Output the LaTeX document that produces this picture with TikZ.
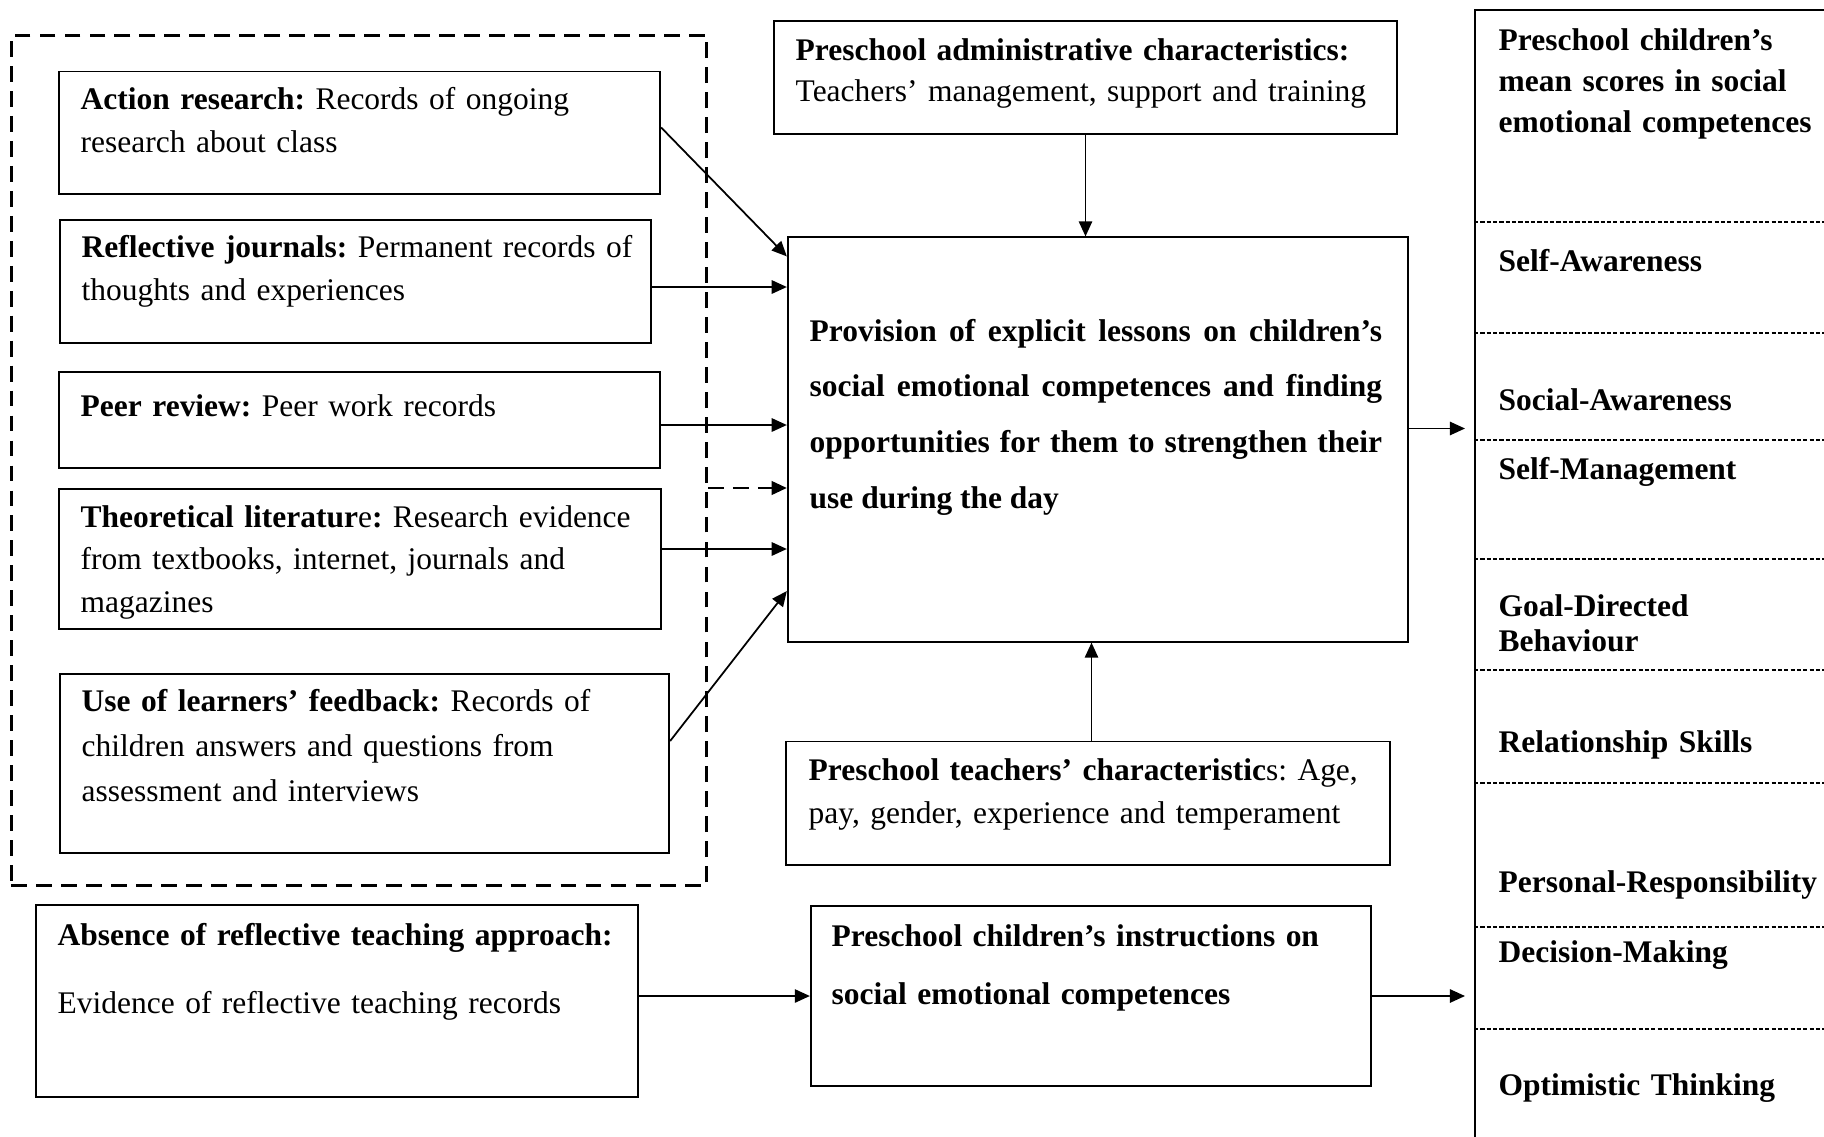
\documentclass[tikz,border=0pt]{standalone}
\usepackage{fontspec}
\setmainfont{Liberation Serif}
\usepackage{tikz}
\usetikzlibrary{arrows.meta}
\usetikzlibrary{positioning}
\frenchspacing

\begin{document}
\begin{tikzpicture}[x=0.01cm, y=-0.01cm,
    box/.style={draw, line width=0.55pt, inner sep=0pt},
    grp/.style={draw, line width=0.75pt, dash pattern=on 4.5pt off 2.6pt, inner sep=0pt},
    txt/.style={anchor=base west, inner sep=0pt, align=left, text width=6.3cm,
                font=\fontsize{8.95}{#1}\selectfont},
    txt/.default=12.5,
    arr/.style={-{Triangle[length=4.3pt,width=3.8pt]}, line width=0.5pt},
    dasharr/.style={arr, line width=0.75pt, dash pattern=on 4.5pt off 2.6pt},
    divider/.style={line width=0.4pt, dash pattern=on 1.2pt off 0.6pt}]
  \useasboundingbox (0,0) rectangle (1824,1136);

  % Dashed frame round the reflective practices
  \node[grp, minimum width=6.95cm, minimum height=8.50cm] (grp) at (359,460.5) {};

  % Reflective practices
  \node[box, minimum width=6.01cm, minimum height=1.22cm] (act)  at (359.5,132.5) {};
  \node[box, minimum width=5.91cm, minimum height=1.23cm] (refl) at (355.5,281.5) {};
  \node[box, minimum width=6.01cm, minimum height=0.96cm] (peer) at (359.5,420) {};
  \node[box, minimum width=6.02cm, minimum height=1.40cm] (theo) at (360,559) {};
  \node[box, minimum width=6.09cm, minimum height=1.79cm] (use)  at (364.5,763.5) {};

  \node[txt] (actT) at (80,109) {\textbf{Action research:} Records of ongoing\\research about class};
  \node[txt] (reflT) at (81,257) {\textbf{Reflective journals:} Permanent records of\\thoughts and experiences};
  \node[txt] (peerT) at (80,416) {\textbf{Peer review:} Peer work records};
  \node[txt=12.2] (theoT) at (80,527) {\textbf{Theoretical literatur}e\textbf{:} Research evidence\\from textbooks, internet, journals and\\magazines};
  \node[txt=12.8] (useT) at (81,711) {\textbf{Use of learners’ feedback:} Records of\\children answers and questions from\\assessment and interviews};

  % Absence of reflective teaching
  \node[box, minimum width=6.02cm, minimum height=1.92cm] (absn) at (337,1001) {};
  \node[txt=19.6] (absnT) at (57,945) {\textbf{Absence of reflective teaching approach:}\\Evidence of reflective teaching records};

  % Middle column
  \node[box, minimum width=6.23cm, minimum height=1.13cm] (admin) at (1085.5,77.5) {};
  \node[box, minimum width=6.20cm, minimum height=4.04cm] (prov)  at (1098,439.5) {};
  \node[box, minimum width=6.04cm, minimum height=1.23cm] (teach) at (1088,803) {};
  \node[box, minimum width=5.60cm, minimum height=1.79cm] (instr) at (1091,996) {};

  \node[txt=11.7] (adminT) at (795,60) {\textbf{Preschool administrative characteristics:}\\Teachers’ management, support and training};
  \node[txt=15.9, text width=5.72cm, align=justify] (provT) at (809,341) {\bfseries Provision of explicit lessons on children’s\linebreak
    social emotional competences and finding\linebreak opportunities for them to strengthen their\linebreak use during the day};
  \node[txt] (teachT) at (808,780) {\textbf{Preschool teachers’ characteristic}s: Age,\\pay, gender, experience and temperament};
  \node[txt=16.5] (instrT) at (831,946) {\bfseries Preschool children’s instructions on\\social emotional competences};

  % Outcome column
  \node[draw, line width=0.65pt, inner sep=0pt, anchor=north west, minimum width=4cm, minimum height=11.5cm] (scores) at (1474,9) {};
  \foreach \y in {222,333,440,559,670,783,927,1029}
    \draw[divider] (scores.west |- 0,\y) -- (1824,\y);

  \node[txt=11.7] (scoresT) at (1498,50) {\bfseries Preschool children’s\\mean scores in social\\emotional competences};
  \node[txt=10.2] (goal) at (1498,616) {\bfseries Goal-Directed\\Behaviour};
  \foreach \t/\n/\y in {Self-Awareness/selfaw/271, Social-Awareness/socaw/410, Self-Management/selfman/479,
                        Relationship Skills/relsk/752, Personal-Responsibility/persresp/892,
                        Decision-Making/decmak/962, Optimistic Thinking/optth/1095}
    \node[txt] (\n) at (1498,\y) {\bfseries \t};

  % Arrows into the provision box
  \draw[arr] ([yshift=0.05cm]act.east) -- ([yshift=-0.2cm]prov.north west);
  \draw[arr] ([yshift=-0.055cm]refl.east) -- ([yshift=-0.055cm]refl.east -| prov.west);
  \draw[arr] ([yshift=-0.05cm]peer.east) -- ([yshift=-0.05cm]peer.east -| prov.west);
  \draw[dasharr] (grp.east |- theo.north) -- (prov.west |- theo.north);
  \draw[arr] ([yshift=0.1cm]theo.east) -- ([yshift=0.1cm]theo.east -| prov.west);
  \draw[arr] ([yshift=0.225cm]use.east) -- ([yshift=0.515cm]prov.south west);
  \draw[arr] (admin.south) -- (admin.south |- prov.north);
  \draw[arr] ([xshift=0.035cm]teach.north) -- ([xshift=0.035cm]teach.north |- prov.south);

  % Arrows to the outcomes
  \draw[arr, shorten >=0.09cm] ([yshift=0.11cm]prov.east) -- ([yshift=0.11cm]prov.east -| scores.west);
  \draw[arr] (absn.east |- instr.west) -- (instr.west);
  \draw[arr, shorten >=0.09cm] (instr.east) -- (instr.east -| scores.west);
\end{tikzpicture}
\end{document}
